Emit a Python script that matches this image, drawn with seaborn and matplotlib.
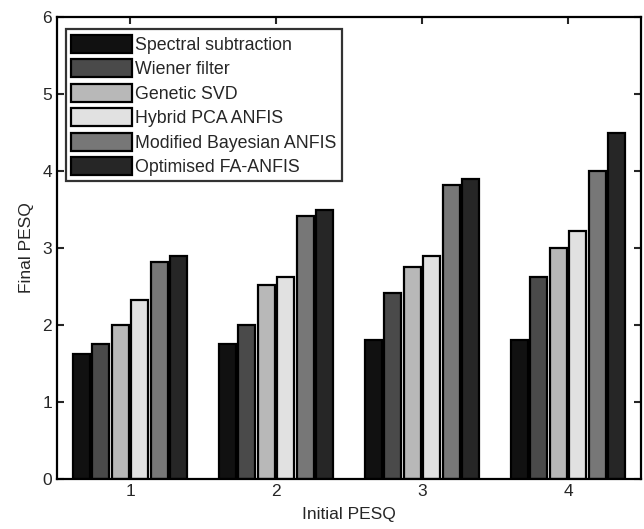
import pandas as pd
import matplotlib
matplotlib.use('Agg')
import matplotlib.pyplot as plt
import seaborn as sns

# --- data ---
initial_pesq = ['1', '2', '3', '4']
methods = ['Spectral subtraction', 'Wiener filter', 'Genetic SVD',
           'Hybrid PCA ANFIS', 'Modified Bayesian ANFIS', 'Optimised FA-ANFIS']
spectral = [1.62, 1.75, 1.80, 1.80]
wiener = [1.75, 2.00, 2.42, 2.62]
genetic = [2.00, 2.52, 2.76, 3.00]
hybrid = [2.32, 2.62, 2.90, 3.22]
bayes = [2.82, 3.42, 3.82, 4.00]
fa_anfis = [2.90, 3.50, 3.90, 4.50]

colors = ['#111111', '#4a4a4a', '#b8b8b8', '#e1e1e1', '#777777', '#262626']

rows = []
for m, vals in zip(methods, [spectral, wiener, genetic, hybrid, bayes, fa_anfis]):
    for x, v in zip(initial_pesq, vals):
        rows.append({'Initial PESQ': x, 'Final PESQ': v, 'method': m})
df = pd.DataFrame(rows)

sns.set_style('ticks')
plt.rcParams['font.family'] = ['Liberation Sans', 'DejaVu Sans']

fig = plt.figure(figsize=(6.44, 5.29), dpi=100)
ax = fig.add_axes([0.0885, 0.0945, 0.907, 0.873])

sns.barplot(data=df, x='Initial PESQ', y='Final PESQ', hue='method',
            hue_order=methods, palette=colors, edgecolor='black',
            linewidth=1.6, width=0.8, gap=0.12, saturation=1, ax=ax)

ax.set_xlim(-0.5, 3.5)
ax.set_ylim(0, 6)
ax.set_yticks(range(0, 7))
ax.set_xlabel('Initial PESQ', fontsize=12.5, labelpad=6)
ax.set_ylabel('Final PESQ', fontsize=12.5, labelpad=6)
ax.tick_params(direction='in', top=True, right=True, labelsize=12.5, width=1.5, length=5)
for s in ax.spines.values():
    s.set_linewidth(1.6)
    s.set_color('black')

leg = ax.legend(loc='upper left', bbox_to_anchor=(0.006, 0.985), fontsize=12.8,
                frameon=True, fancybox=False, edgecolor='black',
                handlelength=3.4, handleheight=1.2, labelspacing=0.3,
                handletextpad=0.2, borderpad=0.3, borderaxespad=0.3)
leg.get_frame().set_linewidth(1.6)

plt.savefig('out.png', dpi=100)
